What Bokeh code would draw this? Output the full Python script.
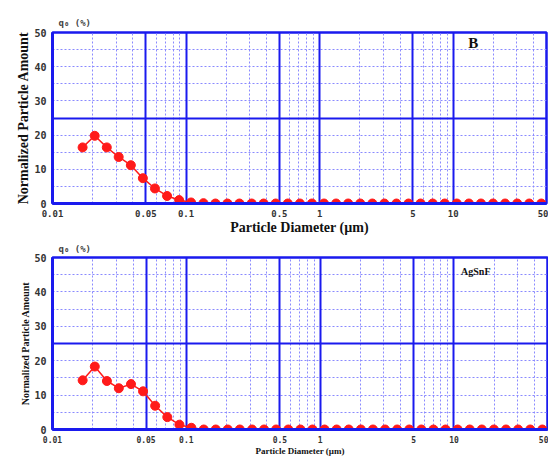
import numpy as np
from bokeh.plotting import figure
from bokeh.layouts import column
from bokeh.models import FixedTicker, Grid, Label, Range1d, CustomJSTickFormatter, ColumnDataSource
from bokeh.embed import file_html
from bokeh.resources import INLINE

# Particle diameters (um) of the instrument channels
diameter = [0.0168, 0.0207, 0.0255, 0.0313, 0.0386, 0.0475, 0.0585, 0.0721, 0.0888,
            0.109, 0.135, 0.166, 0.204, 0.251, 0.310, 0.381, 0.469, 0.578, 0.712,
            0.876, 1.079, 1.329, 1.636, 2.015, 2.481, 3.055, 3.762, 4.633, 5.705,
            7.025, 8.650, 10.65, 13.12, 16.15, 19.89, 24.49, 30.16, 37.14, 45.73]

# Normalized particle amount q0 (%)
amount_b = [16.4, 19.8, 16.4, 13.6, 11.2, 7.4, 4.4, 2.2, 1.0, 0.3, 0.1] + [0.0] * 28
amount_agsnf = [14.3, 18.3, 14.1, 12.0, 13.2, 11.1, 6.9, 3.6, 1.4, 0.5, 0.0] + [0.0] * 28

x_tick_values = [0.01, 0.05, 0.1, 0.5, 1, 5, 10, 50]
y_tick_values = [0, 10, 20, 30, 40, 50]
major_x_grid = [0.05, 0.1, 0.5, 1, 5, 10]
minor_x_grid = [0.02, 0.03, 0.04, 0.06, 0.07, 0.08, 0.09,
                0.2, 0.3, 0.4, 0.6, 0.7, 0.8, 0.9,
                2, 3, 4, 6, 7, 8, 9, 20, 30, 40]
major_y_grid = [25]
minor_y_grid = [5, 10, 15, 20, 30, 35, 40, 45]

BLUE = "#1a1aee"
LIGHT = "#8a8aff"
RED = "#ff1a1a"
SERIF = "Liberation Serif"
MONO = "DejaVu Sans Mono"


def make_panel(amounts, tag, tag_x, tag_y, tag_size, ylab_size, xlab_size, xtick_size,
               fw, fh, bl, br, bt, bb, title_standoff):
    p = figure(x_axis_type="log", x_range=Range1d(0.01, 50), y_range=Range1d(0, 50),
               frame_width=fw, frame_height=fh, output_backend="svg", toolbar_location=None,
               min_border_left=bl, min_border_right=br, min_border_top=bt, min_border_bottom=bb,
               background_fill_color="white", border_fill_color="white")
    p.xgrid.visible = False
    p.ygrid.visible = False

    # minor dotted grids
    p.add_layout(Grid(dimension=0, ticker=FixedTicker(ticks=minor_x_grid),
                      grid_line_color=LIGHT, grid_line_dash="2 2", grid_line_width=1))
    p.add_layout(Grid(dimension=1, ticker=FixedTicker(ticks=minor_y_grid),
                      grid_line_color=LIGHT, grid_line_dash="2 2", grid_line_width=1))
    # major solid grids
    p.add_layout(Grid(dimension=0, ticker=FixedTicker(ticks=major_x_grid),
                      grid_line_color=BLUE, grid_line_width=2))
    p.add_layout(Grid(dimension=1, ticker=FixedTicker(ticks=major_y_grid),
                      grid_line_color=BLUE, grid_line_width=2))

    p.outline_line_color = BLUE
    p.outline_line_width = 2.5
    p.outline_line_alpha = 1

    xa = p.xaxis[0]
    xa.ticker = FixedTicker(ticks=x_tick_values)
    xa.formatter = CustomJSTickFormatter(code="return String(tick);")
    xa.axis_line_color = BLUE
    xa.axis_line_width = 3
    xa.major_tick_line_color = None
    xa.minor_tick_line_color = None
    xa.major_label_text_font = MONO
    xa.major_label_text_font_style = "bold"
    xa.major_label_text_font_size = xtick_size
    xa.major_label_text_color = "#333333"
    xa.major_label_standoff = 0
    xa.axis_label = "Particle Diameter (µm)"
    xa.axis_label_text_font = SERIF
    xa.axis_label_text_font_style = "bold"
    xa.axis_label_text_font_size = xlab_size
    xa.axis_label_text_color = "#111111"
    xa.axis_label_standoff = 0

    ya = p.yaxis[0]
    ya.ticker = FixedTicker(ticks=y_tick_values)
    ya.axis_line_color = BLUE
    ya.axis_line_width = 3
    ya.major_tick_line_color = None
    ya.minor_tick_line_color = None
    ya.major_label_text_font = MONO
    ya.major_label_text_font_style = "bold"
    ya.major_label_text_font_size = "10px"
    ya.major_label_text_color = "#333333"
    ya.major_label_standoff = 0
    ya.axis_label = "Normalized Particle Amount"
    ya.axis_label_text_font = SERIF
    ya.axis_label_text_font_style = "bold"
    ya.axis_label_text_font_size = ylab_size
    ya.axis_label_text_color = "#111111"
    ya.axis_label_standoff = 0

    p.title.text = "q\u2080 (%)"
    p.title.align = "left"
    p.title.offset = 6
    p.title.text_font = MONO
    p.title.text_font_size = "9px"
    p.title.text_font_style = "bold"
    p.title.text_color = "#444444"
    p.title.standoff = title_standoff

    src = ColumnDataSource(dict(x=diameter, y=amounts))
    p.line("x", "y", source=src, line_color=RED, line_width=1.5)
    p.scatter("x", "y", source=src, size=9, fill_color=RED, line_color=RED)

    p.add_layout(Label(x=tag_x, y=tag_y, text=tag, text_font=SERIF, text_font_style="bold",
                       text_font_size=tag_size, text_color="#111111",
                       text_baseline="middle"))
    return p


top = make_panel(amount_b, "B", 13.0, 46.8, "15px", "14px", "14px", "9px",
                 494, 171, 51, 3, 32, 33, 9)
bottom = make_panel(amount_agsnf, "AgSnF", 11.3, 46.0, "10px", "10px", "9px", "8px",
                    495, 172, 52, 1, 19, 22, 8)

layout = column(top, bottom, spacing=0)
open("out.html", "w").write(file_html(layout, INLINE))
